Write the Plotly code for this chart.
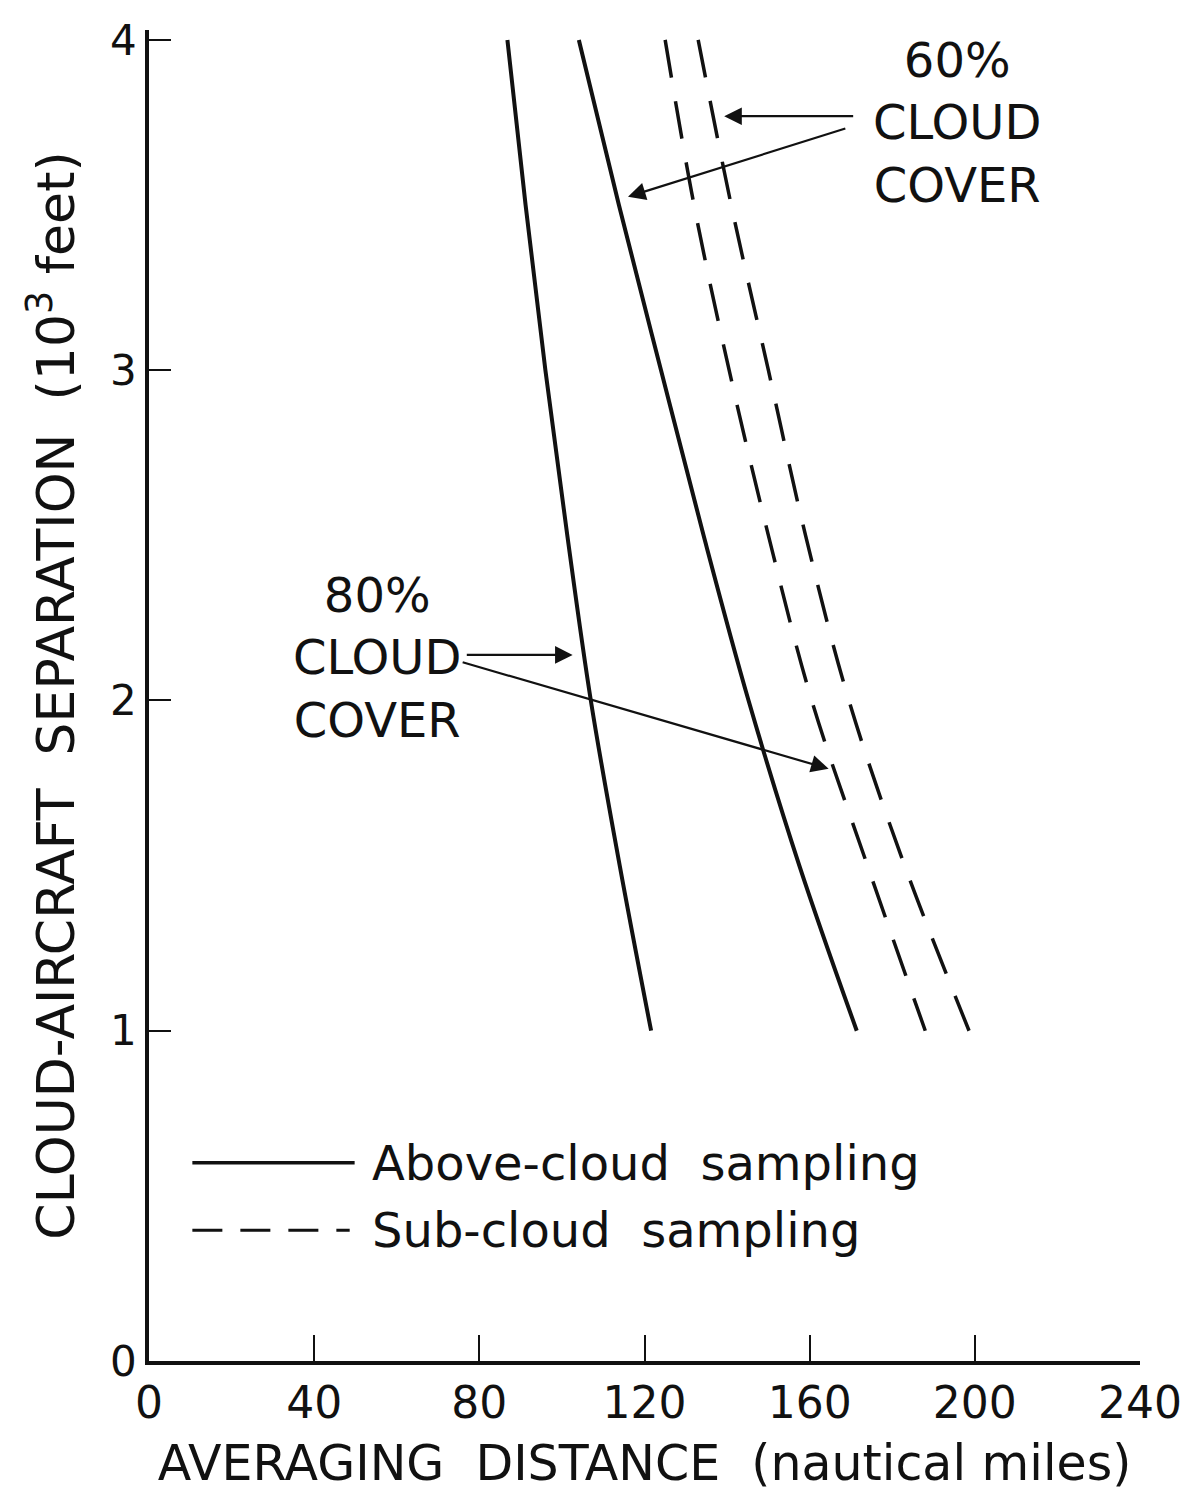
import plotly.graph_objects as go

# ---- data ----
sep = [4.0, 3.5, 3.0, 2.5, 2.0, 1.5, 1.0]          # cloud-aircraft separation (10^3 ft)
above_80 = [86.8, 91.2, 96.0, 101.3, 107.0, 114.0, 121.6]
above_60 = [104.1, 113.8, 124.0, 134.3, 145.2, 157.5, 171.4]
sub_80 = [125.0, 132.0, 140.5, 150.0, 160.5, 174.0, 188.0]
sub_60 = [133.0, 141.0, 150.0, 159.0, 169.5, 183.0, 198.6]

x_ticks = [0, 40, 80, 120, 160, 200, 240]
y_ticks = [0, 1, 2, 3, 4]

FONT = "DejaVu Sans, Liberation Sans, Arial, sans-serif"
BLACK = "#111111"

fig = go.Figure()
for xs, dash, w in [(above_80, "solid", 4), (above_60, "solid", 4),
                    (sub_80, "38px,24px", 3.5), (sub_60, "38px,24px", 3.5)]:
    fig.add_trace(go.Scatter(
        x=xs, y=sep, mode="lines",
        line=dict(color=BLACK, width=w, dash=dash, shape="spline", smoothing=1.0),
        showlegend=False, hoverinfo="skip"))

# legend drawn by hand (long sample lines like the original)
fig.add_shape(type="line", xref="x", yref="y", x0=10.5, x1=49.8, y0=0.60, y1=0.60,
              line=dict(color=BLACK, width=3.5))
fig.add_shape(type="line", xref="x", yref="y", x0=10.5, x1=48.6, y0=0.396, y1=0.396,
              line=dict(color=BLACK, width=3, dash="30px,18px"))
fig.add_annotation(x=53.5, y=0.60, xref="x", yref="y", text="Above-cloud  sampling",
                   showarrow=False, xanchor="left", yanchor="middle",
                   font=dict(family=FONT, size=48, color=BLACK))
fig.add_annotation(x=53.5, y=0.396, xref="x", yref="y", text="Sub-cloud  sampling",
                   showarrow=False, xanchor="left", yanchor="middle",
                   font=dict(family=FONT, size=48, color=BLACK))

# labels
fig.add_annotation(x=195.7, y=3.75, xref="x", yref="y", text="60%<br>CLOUD<br>COVER",
                   showarrow=False, align="center", font=dict(family=FONT, size=48, color=BLACK))
fig.add_annotation(x=55.2, y=2.13, xref="x", yref="y", text="80%<br>CLOUD<br>COVER",
                   showarrow=False, align="center", font=dict(family=FONT, size=48, color=BLACK))

# arrows
arrows = [
    (139.3, 3.769, 170.9, 3.769),
    (116.0, 3.525, 169.0, 3.733),
    (102.6, 2.138, 76.6, 2.138),
    (164.6, 1.793, 75.6, 2.117),
]
for hx, hy, tx, ty in arrows:
    fig.add_annotation(x=hx, y=hy, ax=tx, ay=ty, xref="x", yref="y", axref="x", ayref="y",
                       text="", showarrow=True, arrowhead=2, arrowsize=1.6, arrowwidth=2.2,
                       arrowcolor=BLACK)

fig.update_layout(
    width=1193, height=1498,
    margin=dict(l=141, r=61, t=22, b=145, autoexpand=False),
    paper_bgcolor="white", plot_bgcolor="white",
    font=dict(family=FONT, color=BLACK),
    xaxis=dict(range=[0, 240], tickvals=x_ticks, ticktext=[str(v) for v in x_ticks],
               automargin=False,
               ticks="inside", ticklen=26, tickwidth=2, tickcolor=BLACK,
               showline=True, linecolor=BLACK, linewidth=3.5, showgrid=False, zeroline=False,
               tickfont=dict(family=FONT, size=44, color=BLACK),
               title=dict(text="AVERAGING  DISTANCE  (nautical miles)", standoff=20,
                          font=dict(family=FONT, size=49, color=BLACK))),
    yaxis=dict(range=[0, 4.03], tickvals=y_ticks, ticktext=[str(v) for v in y_ticks],
               automargin=False,
               ticks="inside", ticklen=22, tickwidth=2, tickcolor=BLACK,
               ticklabeloverflow="allow",
               showline=True, linecolor=BLACK, linewidth=3.5, showgrid=False, zeroline=False,
               tickfont=dict(family=FONT, size=42, color=BLACK),
               title=dict(text="CLOUD-AIRCRAFT  SEPARATION  (10<sup>3</sup> feet)", standoff=20,
                          font=dict(family=FONT, size=52, color=BLACK))),
)

fig.write_html("out.html")
